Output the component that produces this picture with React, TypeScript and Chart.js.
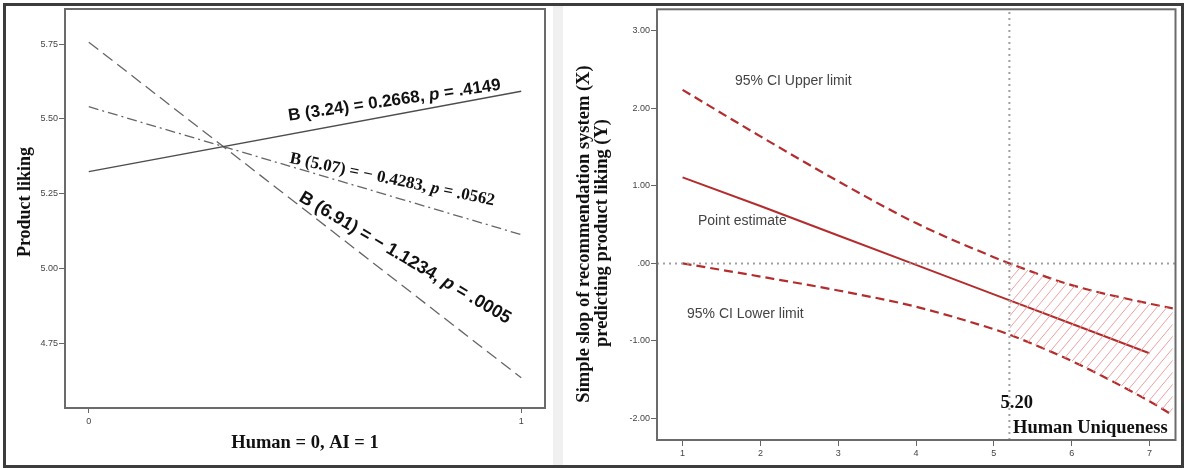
import React, { useEffect, useRef } from "react";
import { Chart, registerables } from "chart.js";

Chart.register(...registerables);

// ---------- Left panel data ----------
const groupX = [0, 1]; // Human = 0, AI = 1
const slopeAt324 = [5.324, 5.593];
const slopeAt507 = [5.541, 5.113];
const slopeAt691 = [5.757, 4.634];
const leftXTicks = [0, 1];
const leftXTickLabels = ["0", "1"];
const leftYTicks = [4.75, 5.0, 5.25, 5.5, 5.75];
const leftYTickLabels = ["4.75", "5.00", "5.25", "5.50", "5.75"];
const leftXRange = [-0.055, 1.055];
const leftYRange = [4.533, 5.868];

// ---------- Right panel data ----------
const uniquenessX = [1, 2, 3, 4, 5, 6, 7];
const pointEstimate = [1.11, 0.74, 0.36, -0.02, -0.4, -0.78, -1.16];
const ciX = [1, 2, 3, 4, 5, 5.2, 6, 7, 7.3];
const ciUpper = [2.24, 1.64, 1.06, 0.52, 0.08, 0.0, -0.28, -0.52, -0.58];
const ciLower = [0.0, -0.17, -0.35, -0.56, -0.85, -0.92, -1.26, -1.78, -1.96];
const jnPoint = 5.2;
const rightXTicks = [1, 2, 3, 4, 5, 6, 7];
const rightXTickLabels = ["1", "2", "3", "4", "5", "6", "7"];
const rightYTicks = [-2, -1, 0, 1, 2, 3];
const rightYTickLabels = ["-2.00", "-1.00", ".00", "1.00", "2.00", "3.00"];
const rightXRange = [0.671, 7.335];
const rightYRange = [-2.28, 3.28];

type Run = { t: string; f: string };
type Label = {
  runs: Run[];
  x: number;
  y: number;
  angle?: number;
  color?: string;
  align?: "left" | "center";
  baseline?: CanvasTextBaseline;
};

const SANS = "'Liberation Sans', Arial, sans-serif";
const SERIF = "'Liberation Serif', 'Times New Roman', serif";

function drawLabels(ctx: CanvasRenderingContext2D, labels: Label[]) {
  for (const L of labels) {
    ctx.save();
    ctx.translate(L.x, L.y);
    ctx.rotate(((L.angle || 0) * Math.PI) / 180);
    ctx.fillStyle = L.color || "#111";
    ctx.textBaseline = L.baseline || "alphabetic";
    ctx.textAlign = "left";
    let total = 0;
    for (const r of L.runs) {
      ctx.font = r.f;
      total += ctx.measureText(r.t).width;
    }
    let x = L.align === "center" ? -total / 2 : 0;
    for (const r of L.runs) {
      ctx.font = r.f;
      ctx.fillText(r.t, x, 0);
      x += ctx.measureText(r.t).width;
    }
    ctx.restore();
  }
}

const framePlugin = {
  id: "frame",
  afterDatasetsDraw(chart: any) {
    const { ctx, chartArea: a } = chart;
    ctx.save();
    ctx.strokeStyle = "#6b6b6b";
    ctx.lineWidth = 2;
    ctx.strokeRect(a.left, a.top, a.right - a.left, a.bottom - a.top);
    ctx.restore();
  },
};

const textPlugin = (labels: Label[]) => ({
  id: "texts",
  afterDraw(chart: any) {
    drawLabels(chart.ctx, labels);
  },
});

const sb = (s: number) => `bold ${s}px ${SANS}`;
const sbi = (s: number) => `italic bold ${s}px ${SANS}`;
const rb = (s: number) => `bold ${s}px ${SERIF}`;
const rbi = (s: number) => `italic bold ${s}px ${SERIF}`;

const leftLabels: Label[] = [
  { runs: [{ t: "Product liking", f: rb(18) }], x: 25, y: 202, angle: -90, align: "center", baseline: "middle" },
  { runs: [{ t: "Human = 0, AI = 1", f: rb(18.5) }], x: 305, y: 448, align: "center" },
  {
    runs: [
      { t: "B (3.24) = 0.2668, ", f: sb(17) },
      { t: "p", f: sbi(17) },
      { t: " = .4149", f: sb(17) },
    ],
    x: 289,
    y: 120.7,
    angle: -8.3,
  },
  {
    runs: [
      { t: "B (5.07) = \u2212 0.4283, ", f: rb(17) },
      { t: "p", f: rbi(17) },
      { t: " = .0562", f: rb(17) },
    ],
    x: 289,
    y: 162.8,
    angle: 11.8,
  },
  {
    runs: [
      { t: "B (6.91) = \u2212 1.1234, ", f: sb(18) },
      { t: "p", f: sbi(18) },
      { t: " = .0005", f: sb(18) },
    ],
    x: 298,
    y: 200.5,
    angle: 30.6,
  },
];

const RX = 563; // right canvas offset on page
const rightLabels: Label[] = [
  { runs: [{ t: "Simple slop of recommendation system (X)", f: rb(18.5) }], x: 584 - RX, y: 234, angle: -90, align: "center", baseline: "middle" },
  { runs: [{ t: "predicting product liking (Y)", f: rb(18.5) }], x: 602 - RX, y: 233, angle: -90, align: "center", baseline: "middle" },
  { runs: [{ t: "95% CI Upper limit", f: `14px ${SANS}` }], x: 735 - RX, y: 81, color: "#444", baseline: "middle" },
  { runs: [{ t: "Point estimate", f: `14px ${SANS}` }], x: 698 - RX, y: 221, color: "#444", baseline: "middle" },
  { runs: [{ t: "95% CI Lower limit", f: `14px ${SANS}` }], x: 687 - RX, y: 314.5, color: "#444", baseline: "middle" },
  { runs: [{ t: "5.20", f: rb(18.5) }], x: 1000.5 - RX, y: 408 },
  { runs: [{ t: "Human Uniqueness", f: rb(18.5) }], x: 1013 - RX, y: 433 },
];

function labelFor(ticks: number[], labels: string[]) {
  return (v: any) => {
    const i = ticks.findIndex((t) => Math.abs(t - Number(v)) < 1e-9);
    return i >= 0 ? labels[i] : "";
  };
}

function tickFont() {
  return { family: "'Liberation Sans', Arial, sans-serif", size: 9 };
}

function makeHatch(): CanvasPattern | string {
  const w = 10;
  const h = 12;
  const c = document.createElement("canvas");
  c.width = w;
  c.height = h;
  const g = c.getContext("2d");
  if (!g) return "rgba(240,150,150,0.4)";
  g.strokeStyle = "#f0a0a0";
  g.lineWidth = 1;
  g.beginPath();
  for (const dx of [-w, 0, w]) {
    g.moveTo(dx, h);
    g.lineTo(dx + w, 0);
  }
  g.stroke();
  return g.createPattern(c, "repeat") || "rgba(240,150,150,0.4)";
}

export default function App() {
  const leftRef = useRef<HTMLCanvasElement>(null);
  const rightRef = useRef<HTMLCanvasElement>(null);

  useEffect(() => {
    if (!leftRef.current || !rightRef.current) return;
    const pts = (xs: number[], ys: number[]) => xs.map((x, i) => ({ x, y: ys[i] }));

    const left = new Chart(leftRef.current, {
      type: "line",
      data: {
        datasets: [
          { data: pts(groupX, slopeAt324), borderColor: "#4d4d4d", borderWidth: 1.4, pointRadius: 0, fill: false },
          { data: pts(groupX, slopeAt507), borderColor: "#666", borderWidth: 1.3, borderDash: [10, 4, 2, 4], pointRadius: 0, fill: false },
          { data: pts(groupX, slopeAt691), borderColor: "#666", borderWidth: 1.3, borderDash: [12, 6], pointRadius: 0, fill: false },
        ],
      },
      options: {
        animation: false,
        responsive: false,
        devicePixelRatio: 1,
        layout: { padding: { left: 0, top: 9, right: 8, bottom: 0 } },
        plugins: { legend: { display: false }, tooltip: { enabled: false } },
        scales: {
          x: {
            type: "linear",
            min: leftXRange[0],
            max: leftXRange[1],
            afterBuildTicks: (s: any) => {
              s.ticks = leftXTicks.map((v) => ({ value: v }));
            },
            afterFit: (s: any) => {
              s.height = 60;
            },
            ticks: { callback: labelFor(leftXTicks, leftXTickLabels), font: tickFont(), color: "#444", padding: 3, maxRotation: 0, autoSkip: false },
            grid: { drawOnChartArea: false, tickLength: 5, tickColor: "#666" },
            border: { display: false },
          },
          y: {
            type: "linear",
            min: leftYRange[0],
            max: leftYRange[1],
            afterBuildTicks: (s: any) => {
              s.ticks = leftYTicks.map((v) => ({ value: v }));
            },
            afterFit: (s: any) => {
              s.width = 65;
            },
            ticks: { callback: labelFor(leftYTicks, leftYTickLabels), font: tickFont(), color: "#444", padding: 1, autoSkip: false },
            grid: { drawOnChartArea: false, tickLength: 6, tickColor: "#666" },
            border: { display: false },
          },
        },
      },
      plugins: [framePlugin, textPlugin(leftLabels)],
    } as any);

    const hatch = makeHatch();
    const hatchIdx = ciX.map((x, i) => (x >= jnPoint ? i : -1)).filter((i) => i >= 0);
    const hatchX = hatchIdx.map((i) => ciX[i]);
    const red = "#b32d2e";

    const right = new Chart(rightRef.current, {
      type: "line",
      data: {
        datasets: [
          { data: [{ x: rightXRange[0], y: 0 }, { x: rightXRange[1], y: 0 }], borderColor: "#a0a0a0", borderWidth: 2, borderDash: [2, 4], pointRadius: 0, fill: false },
          { data: [{ x: jnPoint, y: rightYRange[0] }, { x: jnPoint, y: rightYRange[1] }], borderColor: "#a0a0a0", borderWidth: 2, borderDash: [2, 4], pointRadius: 0, fill: false },
          { data: pts(hatchX, hatchIdx.map((i) => ciUpper[i])), borderWidth: 0, borderColor: "rgba(0,0,0,0)", backgroundColor: hatch, pointRadius: 0, fill: "+1", cubicInterpolationMode: "monotone" },
          { data: pts(hatchX, hatchIdx.map((i) => ciLower[i])), borderWidth: 0, borderColor: "rgba(0,0,0,0)", pointRadius: 0, fill: false, cubicInterpolationMode: "monotone" },
          { data: pts(ciX, ciUpper), borderColor: red, borderWidth: 2.2, borderDash: [9, 5], pointRadius: 0, fill: false, cubicInterpolationMode: "monotone" },
          { data: pts(ciX, ciLower), borderColor: red, borderWidth: 2.2, borderDash: [9, 5], pointRadius: 0, fill: false, cubicInterpolationMode: "monotone" },
          { data: pts(uniquenessX, pointEstimate), borderColor: red, borderWidth: 2, pointRadius: 0, fill: false },
        ],
      },
      options: {
        animation: false,
        responsive: false,
        devicePixelRatio: 1,
        layout: { padding: { left: 0, top: 9.3, right: 8.5, bottom: 0 } },
        plugins: { legend: { display: false }, tooltip: { enabled: false } },
        scales: {
          x: {
            type: "linear",
            min: rightXRange[0],
            max: rightXRange[1],
            afterBuildTicks: (s: any) => {
              s.ticks = rightXTicks.map((v) => ({ value: v }));
            },
            afterFit: (s: any) => {
              s.height = 28;
            },
            ticks: { callback: labelFor(rightXTicks, rightXTickLabels), font: tickFont(), color: "#444", padding: 2, maxRotation: 0, autoSkip: false },
            grid: { drawOnChartArea: false, tickLength: 6, tickColor: "#666" },
            border: { display: false },
          },
          y: {
            type: "linear",
            min: rightYRange[0],
            max: rightYRange[1],
            afterBuildTicks: (s: any) => {
              s.ticks = rightYTicks.map((v) => ({ value: v }));
            },
            afterFit: (s: any) => {
              s.width = 94;
            },
            ticks: { callback: labelFor(rightYTicks, rightYTickLabels), font: tickFont(), color: "#444", padding: 1, autoSkip: false },
            grid: { drawOnChartArea: false, tickLength: 6, tickColor: "#666" },
            border: { display: false },
          },
        },
      },
      plugins: [framePlugin, textPlugin(rightLabels)],
    } as any);

    return () => {
      left.destroy();
      right.destroy();
    };
  }, []);

  return (
    <div style={{ position: "absolute", left: 0, top: 0, width: 1184, height: 468, background: "#fff", overflow: "hidden" }}>
      <canvas ref={leftRef} width={553} height={468} style={{ position: "absolute", left: 0, top: 0, width: 553, height: 468 }} />
      <div style={{ position: "absolute", left: 553, top: 5, width: 10, height: 460, background: "#f0f0f0" }} />
      <canvas ref={rightRef} width={621} height={468} style={{ position: "absolute", left: RX, top: 0, width: 621, height: 468 }} />
      <div
        style={{
          position: "absolute",
          left: 3,
          top: 3,
          width: 1181,
          height: 465,
          boxSizing: "border-box",
          border: "3px solid #3c3c3c",
          pointerEvents: "none",
        }}
      />
    </div>
  );
}
